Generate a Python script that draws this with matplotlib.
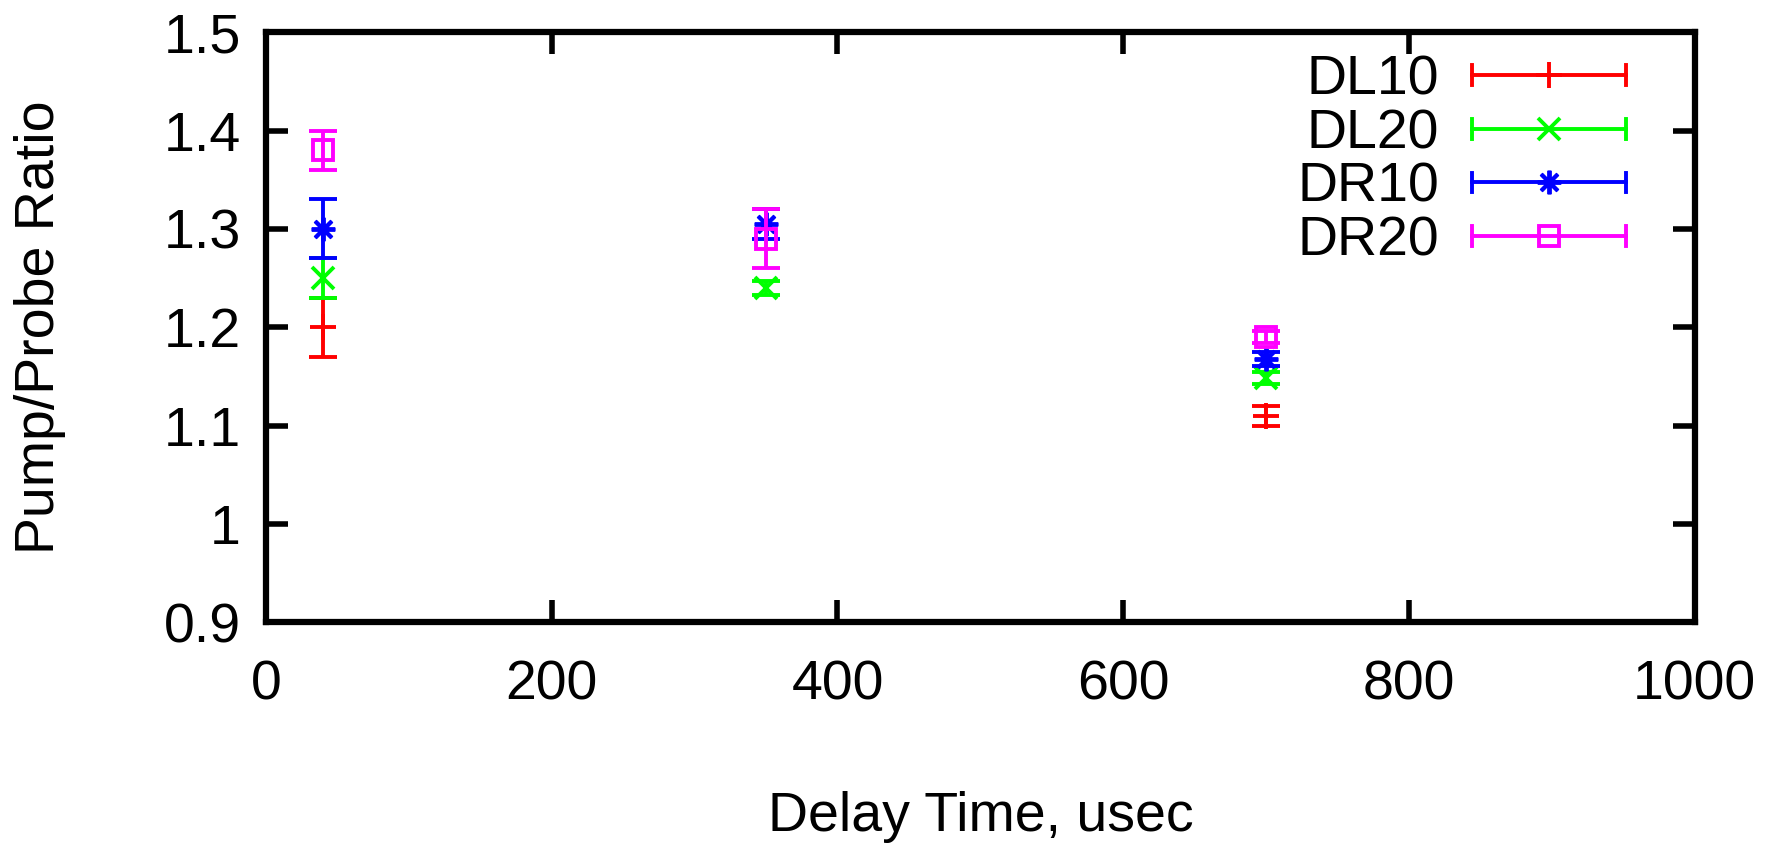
import matplotlib
matplotlib.use("Agg")
from matplotlib import pyplot as plt
from matplotlib.lines import Line2D
from matplotlib.legend_handler import HandlerLine2D

# delay times (usec) and measured pump/probe ratios with errors
# (no visible DL10 point at 350 usec in the original)
delay = [40, 350, 700]
dl10 = [1.20, float('nan'), 1.11]
dl10_err = [0.03, 0.0, 0.01]
dl20 = [1.25, 1.24, 1.148]
dl20_err = [0.02, 0.007, 0.006]
dr10 = [1.30, 1.305, 1.168]
dr10_err = [0.03, 0.015, 0.007]
dr20 = [1.38, 1.29, 1.19]
dr20_err = [0.02, 0.03, 0.006]

labels = ['DL10', 'DL20', 'DR10', 'DR20']
colors = ['#ff0000', '#00ff00', '#0000ff', '#ff00ff']
markers = ['+', 'x', (8, 2, 0), 's']
msizes = [19, 16, 17, 15]


class HandlerErrLine(HandlerLine2D):
    # gnuplot style legend sample: horizontal line with caps at both ends
    def create_artists(self, legend, orig_handle, xdescent, ydescent,
                       width, height, fontsize, trans):
        artists = super().create_artists(legend, orig_handle, xdescent, ydescent,
                                         width, height, fontsize, trans)
        x0 = -xdescent
        x1 = x0 + width
        y = height / 2 - ydescent
        cap = height * 0.25
        for x in (x0, x1):
            ln = Line2D([x, x], [y - cap, y + cap], color=orig_handle.get_color(),
                        lw=orig_handle.get_linewidth())
            ln.set_transform(trans)
            artists.append(ln)
        return artists


plt.rcParams['font.family'] = ['Liberation Sans', 'DejaVu Sans']

fig = plt.figure(figsize=(17.81, 8.47), dpi=100)
ax = fig.add_axes([0.1494, 0.2654, 0.8021, 0.6966])

series = [(dl10, dl10_err), (dl20, dl20_err), (dr10, dr10_err), (dr20, dr20_err)]
handles = []
for (vals, errs), lab, c, m, ms in zip(series, labels, colors, markers, msizes):
    face = 'none' if m == 's' else c
    ax.errorbar(delay, vals, yerr=errs, fmt='none', ecolor=c, elinewidth=2.8,
                capsize=10, capthick=2.8)
    ax.plot(delay, vals, linestyle='none', marker=m, markersize=ms, color=c,
            markerfacecolor=face, markeredgecolor=c, markeredgewidth=2.8)
    handles.append(Line2D([], [], color=c, lw=2.8, marker=m, markersize=ms,
                          markerfacecolor=face, markeredgecolor=c, markeredgewidth=2.8))

ax.set_xlim(0, 1000)
ax.set_ylim(0.9, 1.5)
ax.set_xticks([0, 200, 400, 600, 800, 1000])
ax.set_yticks([0.9, 1.0, 1.1, 1.2, 1.3, 1.4, 1.5])
ax.set_yticklabels(['0.9', '1', '1.1', '1.2', '1.3', '1.4', '1.5'])

for sp in ax.spines.values():
    sp.set_linewidth(4.5)
ax.tick_params(axis='both', direction='in', length=16, width=4, labelsize=40,
               top=True, right=True)
ax.tick_params(axis='x', pad=27)
ax.tick_params(axis='y', pad=18)

ax.set_xlabel('Delay Time, usec', fontsize=40, labelpad=57)
ax.set_ylabel('Pump/Probe Ratio', fontsize=40, labelpad=70)

leg = ax.legend(handles, labels, loc='upper right', bbox_to_anchor=(0.952, 0.962),
                frameon=False, fontsize=40, markerfirst=False, numpoints=1,
                handlelength=2.77, handletextpad=0.6, labelspacing=0.03,
                borderpad=0, borderaxespad=0,
                handler_map={Line2D: HandlerErrLine()})

fig.savefig('out.png', dpi=100)
